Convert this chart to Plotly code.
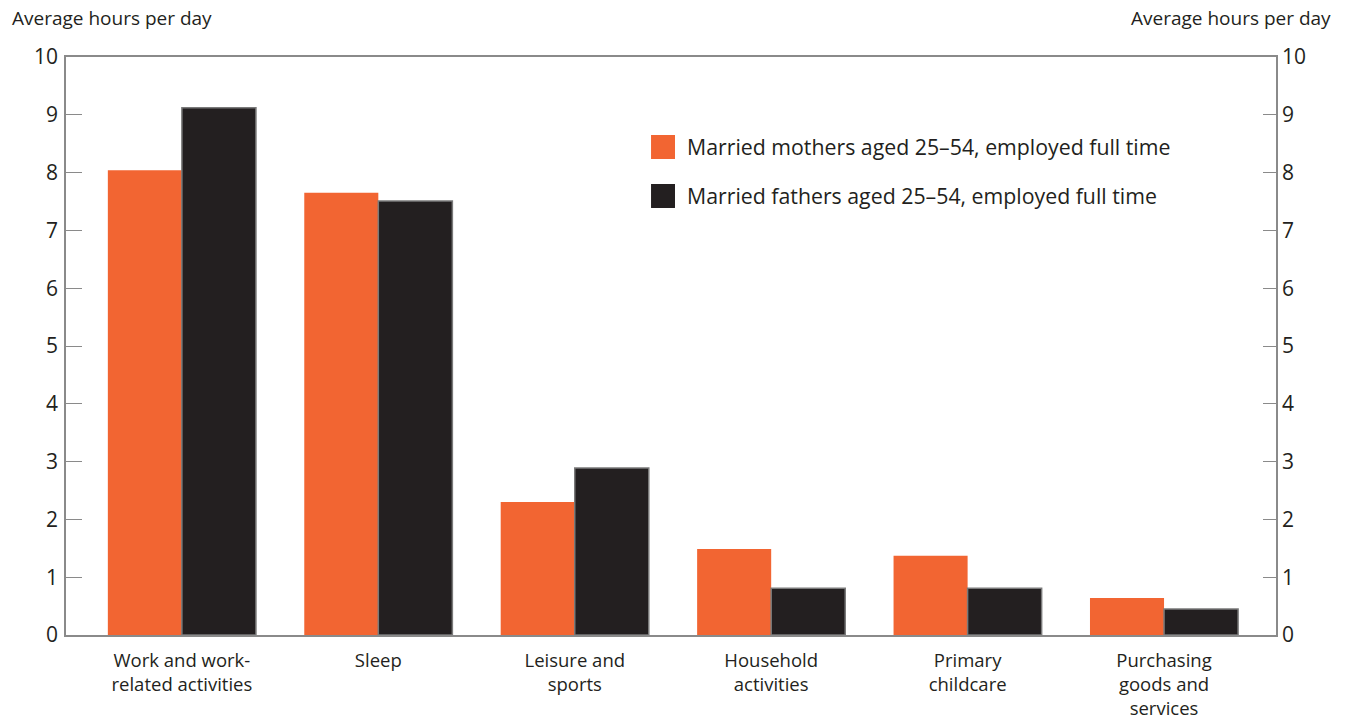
import plotly.graph_objects as go

categories = ["Work and work-<br>related activities", "Sleep", "Leisure and<br>sports",
              "Household<br>activities", "Primary<br>childcare", "Purchasing<br>goods and<br>services"]
mothers = [8.04, 7.65, 2.30, 1.49, 1.37, 0.64]
fathers = [9.12, 7.51, 2.89, 0.81, 0.81, 0.45]
series_names = ["Married mothers aged 25\u201354, employed full time",
                "Married fathers aged 25\u201354, employed full time"]
series_colors = ["#F26532", "#231F20"]
y_ticks = list(range(0, 11))

FONT = "Open Sans"
TXT = "#231F20"
AX = "#8a8a8a"

fig = go.Figure()
fig.add_trace(go.Bar(x=categories, y=mothers, name=series_names[0],
                     marker=dict(color=series_colors[0], line=dict(width=0)),
                     showlegend=False))
fig.add_trace(go.Bar(x=categories, y=fathers, name=series_names[1],
                     marker=dict(color=series_colors[1], line=dict(color="#7a7a7a", width=1.5)),
                     showlegend=False))
# invisible trace to activate right axis
fig.add_trace(go.Scatter(x=categories, y=fathers, yaxis="y2", mode="none",
                         showlegend=False, hoverinfo="skip"))

# legend built from squares + text (large swatches like the original)
leg_y = [(0.8651, 0.8235), (0.7803, 0.7388)]
shapes = []
annotations = []
for (y0, y1), name, col in zip(leg_y, series_names, series_colors):
    shapes.append(dict(type="rect", xref="paper", yref="paper", x0=0.4835, x1=0.5033,
                       y0=y1, y1=y0, fillcolor=col, line=dict(width=0)))
    annotations.append(dict(text=name, xref="paper", yref="paper", x=0.5115,
                            y=(y0 + y1) / 2, xanchor="left", yanchor="middle",
                            showarrow=False, font=dict(size=21.3, color=TXT)))

annotations += [
    dict(text="Average hours per day", xref="paper", yref="paper",
         x=-0.0463, y=1.0675, xanchor="left", yanchor="middle",
         showarrow=False, font=dict(size=19, color=TXT)),
    dict(text="Average hours per day", xref="paper", yref="paper",
         x=1.047, y=1.0675, xanchor="right", yanchor="middle",
         showarrow=False, font=dict(size=19, color=TXT)),
]

fig.update_layout(
    width=1347, height=719,
    margin=dict(l=66, r=71, t=57, b=84, autoexpand=False),
    plot_bgcolor="white", paper_bgcolor="white",
    font=dict(family=FONT, color=TXT, size=18),
    barmode="group", bargap=0.246, bargroupgap=0,
    showlegend=False,
    xaxis=dict(range=[-0.59, 5.57], showline=True, linecolor=AX, linewidth=1.5,
               mirror=True, ticks="outside", ticklen=8, tickcolor="rgba(0,0,0,0)",
               tickfont=dict(size=18.5, color=TXT), showgrid=False, automargin=False),
    yaxis=dict(range=[0, 10], tickvals=y_ticks, showline=True, linecolor=AX,
               linewidth=1.5, ticks="inside", ticklen=16, tickcolor=AX, tickwidth=1,
               showgrid=False, zeroline=False, tickfont=dict(size=21, color=TXT),
               ticklabelstandoff=2, automargin=False),
    yaxis2=dict(range=[0, 10], tickvals=y_ticks, overlaying="y", side="right",
                showline=True, linecolor=AX, linewidth=1.5, ticks="inside",
                ticklen=13, tickcolor=AX, tickwidth=1, showgrid=False,
                zeroline=False, tickfont=dict(size=21, color=TXT),
                ticklabelstandoff=0, automargin=False),
    shapes=shapes,
    annotations=annotations,
)

# remove the default 8px page margin so the 1347x719 figure fills the window exactly
fig.write_html("out.html",
               config={"displayModeBar": False},
               post_script="document.body.style.margin='0';document.body.style.overflow='hidden';")
